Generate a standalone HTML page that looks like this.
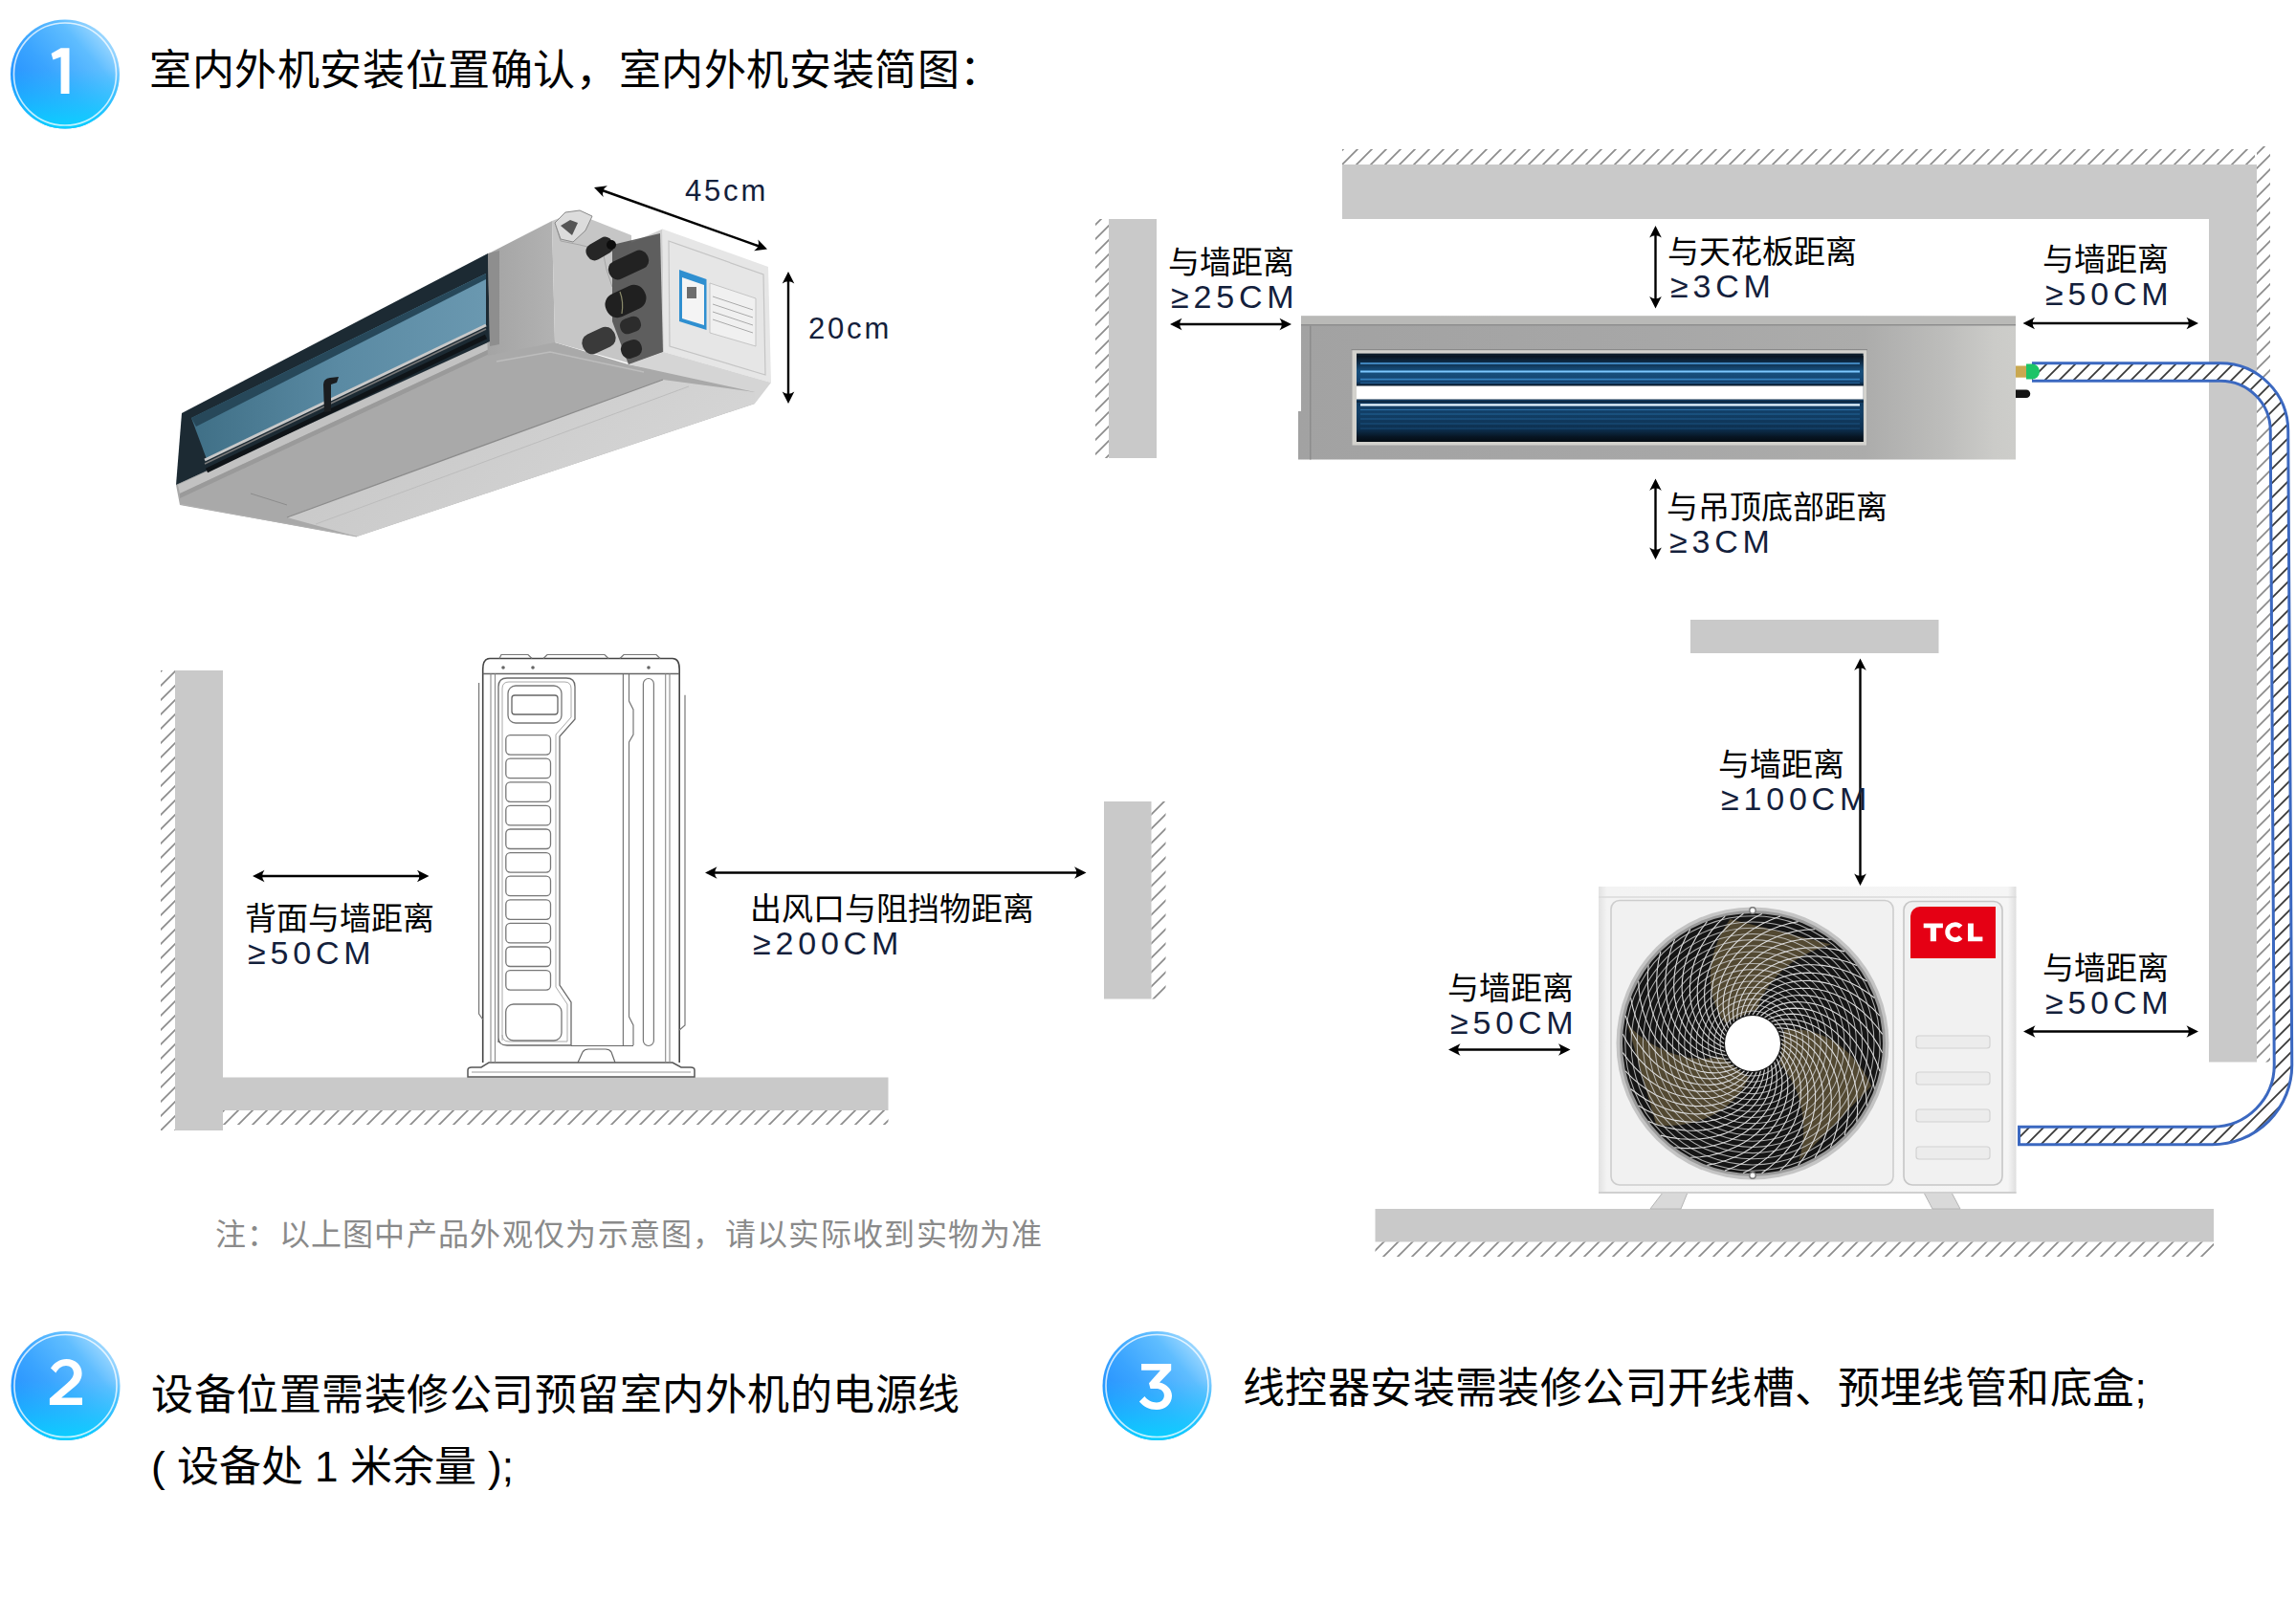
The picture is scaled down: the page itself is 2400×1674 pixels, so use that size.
<!DOCTYPE html>
<html lang="zh-CN"><head><meta charset="utf-8"><title>室内外机安装位置确认</title>
<style>
html,body{margin:0;padding:0;background:#fff;}
body{width:2400px;height:1674px;position:relative;overflow:hidden;font-family:"Liberation Sans",sans-serif;}
svg.bg{position:absolute;left:0;top:0;}
.t{position:absolute;white-space:nowrap;line-height:1;}
</style></head><body>
<svg class="bg" width="2400" height="1674" viewBox="0 0 2400 1674">
<defs>
<pattern id="hw" patternUnits="userSpaceOnUse" width="15" height="15">
<path d="M-2,17 L17,-2 M-2,2 L2,-2 M13,17 L17,13" stroke="#8c8c8c" stroke-width="1.7"/>
</pattern>
<pattern id="hp" patternUnits="userSpaceOnUse" width="15" height="15">
<rect width="15" height="15" fill="#fff"/>
<path d="M-2,17 L17,-2 M-2,2 L2,-2 M13,17 L17,13" stroke="#3a3a3a" stroke-width="1.8"/>
</pattern>
<linearGradient id="bg1" x1="0.9" y1="0.05" x2="0.1" y2="0.75">
<stop offset="0" stop-color="#b5e2ff"/>
<stop offset="0.3" stop-color="#5fbdff"/>
<stop offset="0.65" stop-color="#3aa4ff"/>
<stop offset="1" stop-color="#2490ff"/>
</linearGradient>
<linearGradient id="bg2" x1="0" y1="0" x2="0" y2="1">
<stop offset="0" stop-color="#ffffff" stop-opacity="0"/>
<stop offset="0.45" stop-color="#1ec8ff" stop-opacity="0"/>
<stop offset="1" stop-color="#08d4ff" stop-opacity="0.95"/>
</linearGradient>
</defs>
<rect x="168" y="701" width="15" height="481" fill="url(#hw)" />
<rect x="183" y="701" width="50" height="481" fill="#c9c9c9" />
<rect x="233" y="1126.5" width="695.5" height="34.5" fill="#c9c9c9" />
<rect x="233" y="1161" width="695.5" height="15" fill="url(#hw)" />
<rect x="1154" y="838" width="49.5" height="206.5" fill="#c9c9c9" />
<rect x="1203.5" y="838" width="15.0" height="206.5" fill="url(#hw)" />
<rect x="1145" y="229" width="14" height="250" fill="url(#hw)" />
<rect x="1159" y="229" width="50" height="250" fill="#c9c9c9" />
<rect x="1403" y="156" width="954" height="16" fill="url(#hw)" />
<rect x="1403" y="172" width="954" height="57" fill="#c9c9c9" />
<rect x="2309" y="172" width="50" height="938.5" fill="#c9c9c9" />
<rect x="2359" y="153" width="14" height="957.5" fill="url(#hw)" />
<rect x="1767" y="648" width="259.5" height="35" fill="#c9c9c9" />
<rect x="1437.5" y="1264" width="876.5" height="34.5" fill="#c9c9c9" />
<rect x="1437.5" y="1298.5" width="876.5" height="15.5" fill="url(#hw)" />
<linearGradient id="iug" x1="0" y1="0" x2="1" y2="0">
<stop offset="0" stop-color="#a2a2a2"/><stop offset="0.5" stop-color="#a7a7a7"/>
<stop offset="0.79" stop-color="#acacab"/><stop offset="0.9" stop-color="#bdbdbb"/><stop offset="0.97" stop-color="#cbcbc8"/><stop offset="1" stop-color="#cdcdca"/></linearGradient>
<linearGradient id="gru" x1="0" y1="0" x2="0" y2="1">
<stop offset="0" stop-color="#08131e"/><stop offset="0.22" stop-color="#0e2c48"/><stop offset="0.5" stop-color="#17507e"/><stop offset="0.85" stop-color="#134370"/><stop offset="1" stop-color="#0a1a2a"/></linearGradient>
<linearGradient id="grl" x1="0" y1="0" x2="0" y2="1">
<stop offset="0" stop-color="#123c62"/><stop offset="0.3" stop-color="#124068"/><stop offset="0.7" stop-color="#0d3050"/><stop offset="0.88" stop-color="#071624"/><stop offset="1" stop-color="#040b12"/></linearGradient>
<path d="M1360,330.5 H2107 V480.5 H1357 V430 H1360 Z" fill="url(#iug)"/>
<rect x="1360" y="330.5" width="747" height="8.5" fill="#b9b9b7" />
<rect x="1360" y="339" width="747" height="1.5" fill="#8e8e8e" />
<rect x="1369" y="340.5" width="1.5" height="140.0" fill="#8c8c8c" />
<rect x="1413.5" y="366" width="537.5" height="99.5" fill="#d3d2cd" />
<rect x="1412.5" y="365" width="539.5" height="1.1999999999999886" fill="#8a8a8a" />
<rect x="1418" y="369.6" width="529.7" height="92.39999999999998" fill="#0b1b2a" />
<rect x="1418" y="372" width="529.7" height="31.5" fill="url(#gru)" />
<rect x="1418" y="417.5" width="529.7" height="44.5" fill="url(#grl)" />
<line x1="1422" y1="380" x2="1944" y2="380" stroke="#58aef0" stroke-opacity="0.9" stroke-width="1.6"/>
<line x1="1422" y1="388.6" x2="1944" y2="388.6" stroke="#7cc8ff" stroke-opacity="1" stroke-width="2"/>
<line x1="1422" y1="396.6" x2="1944" y2="396.6" stroke="#3d8fd0" stroke-opacity="0.8" stroke-width="1.6"/>
<line x1="1422" y1="400.4" x2="1944" y2="400.4" stroke="#2d78b8" stroke-opacity="0.6" stroke-width="1.2"/>
<line x1="1422" y1="423.4" x2="1944" y2="423.4" stroke="#e6f6ff" stroke-opacity="1" stroke-width="2.4"/>
<line x1="1422" y1="428.5" x2="1944" y2="428.5" stroke="#3b8ccc" stroke-opacity="0.6" stroke-width="1.2"/>
<line x1="1422" y1="433" x2="1944" y2="433" stroke="#2f7fc0" stroke-opacity="0.55" stroke-width="1.2"/>
<line x1="1422" y1="438" x2="1944" y2="438" stroke="#2f7fc0" stroke-opacity="0.5" stroke-width="1.2"/>
<line x1="1422" y1="443" x2="1944" y2="443" stroke="#2a70aa" stroke-opacity="0.5" stroke-width="1.2"/>
<line x1="1422" y1="448" x2="1944" y2="448" stroke="#2a70aa" stroke-opacity="0.4" stroke-width="1.2"/>
<rect x="1418" y="403.5" width="529.7" height="14.0" fill="#ffffff" />
<rect x="1418" y="419" width="529.7" height="2" fill="#0d2a44" />
<path d="M2124,389 H2321 A61.5,61.5 0 0 1 2382.5,450.5 L2386.5,1113.5 A74,74 0 0 1 2312.5,1187.5 H2109" fill="none" stroke="#3b68c0" stroke-width="21.5"/>
<path d="M2124,389 H2321 A61.5,61.5 0 0 1 2382.5,450.5 L2386.5,1113.5 A74,74 0 0 1 2312.5,1187.5 H2112" fill="none" stroke="url(#hp)" stroke-width="15.5"/>
<rect x="2107" y="382.5" width="12" height="12.199999999999989" fill="#c9a850" />
<path d="M2118,380.5 H2124 A8,8 0 0 1 2124,396.5 H2118 Z" fill="#1cc468"/>
<path d="M2107,407.5 H2118 A4.25,4.25 0 0 1 2118,416 H2107 Z" fill="#141414"/>
<path d="M1738,1247 H1764 L1757,1264 H1725 Z" fill="#d9d9d9" stroke="#b5b5b5" stroke-width="1"/>
<path d="M2011,1247 H2040 L2049,1264 H2020 Z" fill="#d9d9d9" stroke="#b5b5b5" stroke-width="1"/>
<linearGradient id="oug" x1="0" y1="0" x2="1" y2="0">
<stop offset="0" stop-color="#e2e2e2"/><stop offset="0.02" stop-color="#f3f3f3"/><stop offset="0.98" stop-color="#f5f5f5"/><stop offset="1" stop-color="#dedede"/></linearGradient>
<rect x="1671" y="927" width="436.5" height="321" fill="url(#oug)"/>
<line x1="1671" y1="938" x2="2107.5" y2="938" stroke="#dadada" stroke-width="1.5"/>
<line x1="1671" y1="1247" x2="2107.5" y2="1247" stroke="#d0d0d0" stroke-width="2"/>
<rect x="1684" y="941.5" width="295" height="297.5" rx="9" fill="#f1f1f1" stroke="#cdcdcd" stroke-width="1.6"/>
<rect x="1990" y="942.5" width="103" height="296.5" rx="9" fill="#f1f1f1" stroke="#c6c6c6" stroke-width="1.6"/>
<rect x="2003" y="1083" width="77" height="13" rx="3" fill="#ececec" stroke="#d2d2d2" stroke-width="1.2"/>
<rect x="2003" y="1121" width="77" height="13" rx="3" fill="#ececec" stroke="#d2d2d2" stroke-width="1.2"/>
<rect x="2003" y="1160" width="77" height="13" rx="3" fill="#ececec" stroke="#d2d2d2" stroke-width="1.2"/>
<rect x="2003" y="1199" width="77" height="13" rx="3" fill="#ececec" stroke="#d2d2d2" stroke-width="1.2"/>
<path d="M2007,948 H2086 V1002 H1997 V958 A10,10 0 0 1 2007,948 Z" fill="#e50014"/>
<path d="M2010.7,965.6 H2030.9 V970.2 H2023.9 V984.2 H2017.8 V970.2 H2010.7 Z M2057,965.6 H2062.9 V979.6 H2072.4 V984.2 H2057 Z" fill="#fff"/>
<path d="M2049.6,969.2 A8,8 0 1 0 2049.6,980" fill="none" stroke="#fff" stroke-width="4.9"/>
<circle cx="1832" cy="1091" r="142.5" fill="#c4c4c4"/>
<circle cx="1832" cy="1091" r="139" fill="#9a9a9a"/>
<circle cx="1832" cy="1091" r="136" fill="#151515"/>
<path d="M1836.3,1055.3 L1838.8,1048.7 L1841.8,1042.3 L1845.4,1036.0 L1849.4,1030.0 L1853.9,1024.2 L1858.9,1018.7 L1864.4,1013.5 L1870.3,1008.6 L1876.6,1004.1 L1883.4,999.9 L1890.5,996.2 L1898.0,992.9 L1905.9,990.0 L1914.1,987.6 L1808.5,961.1 L1803.1,969.2 L1798.6,977.5 L1794.8,985.9 L1791.9,994.4 L1789.8,1002.9 L1788.4,1011.3 L1787.8,1019.6 L1787.9,1027.7 L1788.8,1035.5 L1790.4,1043.1 L1792.7,1050.3 L1795.6,1057.2 L1799.1,1063.5 L1803.2,1069.5 Z" fill="#524831"/>
<path d="M1860.8,1112.6 L1865.2,1118.1 L1869.3,1123.9 L1872.9,1130.1 L1876.1,1136.6 L1878.9,1143.4 L1881.1,1150.5 L1882.9,1157.8 L1884.2,1165.4 L1885.0,1173.1 L1885.2,1181.0 L1884.9,1189.1 L1884.0,1197.3 L1882.5,1205.5 L1880.5,1213.8 L1956.2,1135.6 L1951.9,1126.9 L1947.0,1118.8 L1941.6,1111.4 L1935.7,1104.6 L1929.4,1098.5 L1922.8,1093.1 L1916.0,1088.4 L1908.9,1084.5 L1901.6,1081.3 L1894.3,1078.9 L1886.9,1077.3 L1879.5,1076.4 L1872.2,1076.2 L1865.1,1076.8 Z" fill="#524831"/>
<path d="M1798.9,1105.1 L1791.9,1106.2 L1784.9,1106.8 L1777.7,1106.9 L1770.5,1106.4 L1763.2,1105.4 L1755.9,1103.8 L1748.7,1101.7 L1741.5,1099.0 L1734.4,1095.8 L1727.4,1092.0 L1720.6,1087.7 L1714.0,1082.9 L1707.6,1077.5 L1701.4,1071.6 L1731.3,1176.3 L1741.0,1176.9 L1750.4,1176.7 L1759.6,1175.7 L1768.4,1174.0 L1776.8,1171.6 L1784.8,1168.6 L1792.2,1165.0 L1799.2,1160.8 L1805.5,1156.1 L1811.3,1151.0 L1816.4,1145.4 L1820.9,1139.5 L1824.7,1133.2 L1827.8,1126.7 Z" fill="#524831"/>
<g fill="none" stroke="#c8c8c8" stroke-width="1.05" stroke-opacity="0.85"><circle cx="1832" cy="1091" r="34.0"/><circle cx="1832" cy="1091" r="40.2"/><circle cx="1832" cy="1091" r="46.4"/><circle cx="1832" cy="1091" r="52.6"/><circle cx="1832" cy="1091" r="58.8"/><circle cx="1832" cy="1091" r="65.0"/><circle cx="1832" cy="1091" r="71.2"/><circle cx="1832" cy="1091" r="77.4"/><circle cx="1832" cy="1091" r="83.6"/><circle cx="1832" cy="1091" r="89.8"/><circle cx="1832" cy="1091" r="96.0"/><circle cx="1832" cy="1091" r="102.2"/><circle cx="1832" cy="1091" r="108.4"/><circle cx="1832" cy="1091" r="114.6"/><circle cx="1832" cy="1091" r="120.8"/><circle cx="1832" cy="1091" r="127.0"/><circle cx="1832" cy="1091" r="133.2"/></g>
<g fill="none" stroke="#dcdcdc" stroke-width="1.1"><path d="M1862.0,1091.0 L1867.1,1094.6 L1871.9,1098.6 L1876.2,1103.3 L1880.1,1108.7 L1883.3,1114.6 L1886.0,1121.0 L1888.0,1127.9 L1889.3,1135.3 L1889.8,1142.9 L1889.6,1150.8 L1888.5,1158.8 L1886.7,1167.0 L1883.9,1175.2 L1880.4,1183.3 L1875.9,1191.3 L1870.7,1199.1 L1864.6,1206.6 L1857.7,1213.7 L1850.0,1220.4 L1841.6,1226.7"/><path d="M1861.7,1095.3 L1866.3,1099.5 L1870.4,1104.2 L1874.0,1109.5 L1877.0,1115.3 L1879.5,1121.7 L1881.2,1128.4 L1882.2,1135.5 L1882.4,1143.0 L1881.9,1150.6 L1880.5,1158.4 L1878.3,1166.2 L1875.3,1174.0 L1871.4,1181.7 L1866.7,1189.2 L1861.2,1196.5 L1854.9,1203.5 L1847.8,1210.1 L1840.0,1216.1 L1831.4,1221.7 L1822.2,1226.6"/><path d="M1860.8,1099.5 L1864.7,1104.3 L1868.1,1109.5 L1870.9,1115.3 L1873.1,1121.5 L1874.6,1128.1 L1875.4,1135.0 L1875.3,1142.2 L1874.5,1149.6 L1872.9,1157.1 L1870.4,1164.6 L1867.1,1172.0 L1863.0,1179.3 L1858.1,1186.4 L1852.4,1193.2 L1845.9,1199.6 L1838.7,1205.6 L1830.7,1211.1 L1822.1,1216.0 L1812.8,1220.3 L1803.0,1223.9"/><path d="M1859.3,1103.5 L1862.5,1108.8 L1865.1,1114.5 L1867.1,1120.6 L1868.4,1127.0 L1868.9,1133.8 L1868.6,1140.8 L1867.6,1147.9 L1865.7,1155.1 L1863.1,1162.2 L1859.6,1169.3 L1855.3,1176.2 L1850.2,1182.8 L1844.3,1189.1 L1837.7,1195.0 L1830.3,1200.5 L1822.3,1205.4 L1813.6,1209.7 L1804.4,1213.3 L1794.6,1216.2 L1784.4,1218.4"/><path d="M1857.2,1107.2 L1859.6,1113.0 L1861.4,1119.0 L1862.5,1125.3 L1862.9,1131.8 L1862.4,1138.6 L1861.2,1145.5 L1859.1,1152.4 L1856.3,1159.2 L1852.6,1165.9 L1848.1,1172.4 L1842.9,1178.6 L1836.9,1184.5 L1830.2,1189.9 L1822.8,1194.8 L1814.7,1199.1 L1806.1,1202.8 L1796.9,1205.9 L1787.3,1208.2 L1777.2,1209.7 L1766.8,1210.3"/><path d="M1854.7,1110.6 L1856.2,1116.7 L1857.1,1122.9 L1857.3,1129.3 L1856.7,1135.8 L1855.3,1142.4 L1853.1,1149.1 L1850.1,1155.6 L1846.3,1162.0 L1841.7,1168.1 L1836.4,1173.9 L1830.3,1179.3 L1823.6,1184.2 L1816.1,1188.6 L1808.1,1192.4 L1799.5,1195.6 L1790.5,1198.0 L1780.9,1199.7 L1771.1,1200.6 L1760.9,1200.6 L1750.4,1199.8"/><path d="M1851.6,1113.7 L1852.3,1119.9 L1852.4,1126.1 L1851.6,1132.5 L1850.1,1138.9 L1847.8,1145.2 L1844.7,1151.5 L1840.8,1157.5 L1836.1,1163.3 L1830.7,1168.7 L1824.6,1173.7 L1817.8,1178.1 L1810.4,1182.1 L1802.4,1185.4 L1793.9,1188.0 L1785.0,1189.9 L1775.6,1191.0 L1766.0,1191.3 L1756.1,1190.8 L1746.0,1189.4 L1735.8,1187.1"/><path d="M1848.2,1116.2 L1848.0,1122.5 L1847.1,1128.7 L1845.5,1134.9 L1843.1,1141.0 L1839.9,1146.9 L1835.9,1152.7 L1831.2,1158.1 L1825.8,1163.1 L1819.6,1167.7 L1812.9,1171.8 L1805.5,1175.2 L1797.6,1178.1 L1789.3,1180.2 L1780.5,1181.6 L1771.4,1182.2 L1762.0,1182.0 L1752.4,1180.9 L1742.6,1179.0 L1732.9,1176.2 L1723.1,1172.4"/><path d="M1844.5,1118.3 L1843.3,1124.4 L1841.6,1130.4 L1839.1,1136.3 L1835.9,1142.1 L1831.9,1147.5 L1827.1,1152.6 L1821.7,1157.3 L1815.6,1161.5 L1808.8,1165.2 L1801.6,1168.2 L1793.8,1170.6 L1785.6,1172.3 L1777.0,1173.2 L1768.1,1173.3 L1759.0,1172.6 L1749.8,1171.1 L1740.4,1168.7 L1731.0,1165.4 L1721.7,1161.2 L1712.6,1156.1"/><path d="M1840.5,1119.8 L1838.5,1125.7 L1835.9,1131.4 L1832.6,1136.9 L1828.6,1142.1 L1823.8,1146.9 L1818.4,1151.3 L1812.3,1155.2 L1805.7,1158.4 L1798.5,1161.1 L1790.9,1163.1 L1782.9,1164.4 L1774.5,1164.9 L1765.9,1164.5 L1757.1,1163.4 L1748.1,1161.4 L1739.2,1158.6 L1730.3,1154.8 L1721.5,1150.2 L1712.9,1144.8 L1704.5,1138.5"/><path d="M1836.3,1120.7 L1833.5,1126.3 L1830.1,1131.6 L1826.1,1136.5 L1821.3,1141.1 L1816.0,1145.2 L1810.0,1148.7 L1803.4,1151.7 L1796.4,1154.0 L1788.9,1155.6 L1781.0,1156.5 L1772.9,1156.6 L1764.6,1155.9 L1756.1,1154.4 L1747.5,1152.0 L1739.0,1148.8 L1730.5,1144.7 L1722.2,1139.7 L1714.2,1133.9 L1706.4,1127.3 L1699.1,1119.8"/><path d="M1832.0,1121.0 L1828.4,1126.1 L1824.4,1130.9 L1819.7,1135.2 L1814.3,1139.1 L1808.4,1142.3 L1802.0,1145.0 L1795.1,1147.0 L1787.7,1148.3 L1780.1,1148.8 L1772.2,1148.6 L1764.2,1147.5 L1756.0,1145.7 L1747.8,1142.9 L1739.7,1139.4 L1731.7,1134.9 L1723.9,1129.7 L1716.4,1123.6 L1709.3,1116.7 L1702.6,1109.0 L1696.3,1100.6"/><path d="M1827.7,1120.7 L1823.5,1125.3 L1818.8,1129.4 L1813.5,1133.0 L1807.7,1136.0 L1801.3,1138.5 L1794.6,1140.2 L1787.5,1141.2 L1780.0,1141.4 L1772.4,1140.9 L1764.6,1139.5 L1756.8,1137.3 L1749.0,1134.3 L1741.3,1130.4 L1733.8,1125.7 L1726.5,1120.2 L1719.5,1113.9 L1712.9,1106.8 L1706.9,1099.0 L1701.3,1090.4 L1696.4,1081.2"/><path d="M1823.5,1119.8 L1818.7,1123.7 L1813.5,1127.1 L1807.7,1129.9 L1801.5,1132.1 L1794.9,1133.6 L1788.0,1134.4 L1780.8,1134.3 L1773.4,1133.5 L1765.9,1131.9 L1758.4,1129.4 L1751.0,1126.1 L1743.7,1122.0 L1736.6,1117.1 L1729.8,1111.4 L1723.4,1104.9 L1717.4,1097.7 L1711.9,1089.7 L1707.0,1081.1 L1702.7,1071.8 L1699.1,1062.0"/><path d="M1819.5,1118.3 L1814.2,1121.5 L1808.5,1124.1 L1802.4,1126.1 L1796.0,1127.4 L1789.2,1127.9 L1782.2,1127.6 L1775.1,1126.6 L1767.9,1124.7 L1760.8,1122.1 L1753.7,1118.6 L1746.8,1114.3 L1740.2,1109.2 L1733.9,1103.3 L1728.0,1096.7 L1722.5,1089.3 L1717.6,1081.3 L1713.3,1072.6 L1709.7,1063.4 L1706.8,1053.6 L1704.6,1043.4"/><path d="M1815.8,1116.2 L1810.0,1118.6 L1804.0,1120.4 L1797.7,1121.5 L1791.2,1121.9 L1784.4,1121.4 L1777.5,1120.2 L1770.6,1118.1 L1763.8,1115.3 L1757.1,1111.6 L1750.6,1107.1 L1744.4,1101.9 L1738.5,1095.9 L1733.1,1089.2 L1728.2,1081.8 L1723.9,1073.7 L1720.2,1065.1 L1717.1,1055.9 L1714.8,1046.3 L1713.3,1036.2 L1712.7,1025.8"/><path d="M1812.4,1113.7 L1806.3,1115.2 L1800.1,1116.1 L1793.7,1116.3 L1787.2,1115.7 L1780.6,1114.3 L1773.9,1112.1 L1767.4,1109.1 L1761.0,1105.3 L1754.9,1100.7 L1749.1,1095.4 L1743.7,1089.3 L1738.8,1082.6 L1734.4,1075.1 L1730.6,1067.1 L1727.4,1058.5 L1725.0,1049.5 L1723.3,1039.9 L1722.4,1030.1 L1722.4,1019.9 L1723.2,1009.4"/><path d="M1809.3,1110.6 L1803.1,1111.3 L1796.9,1111.4 L1790.5,1110.6 L1784.1,1109.1 L1777.8,1106.8 L1771.5,1103.7 L1765.5,1099.8 L1759.7,1095.1 L1754.3,1089.7 L1749.3,1083.6 L1744.9,1076.8 L1740.9,1069.4 L1737.6,1061.4 L1735.0,1052.9 L1733.1,1044.0 L1732.0,1034.6 L1731.7,1025.0 L1732.2,1015.1 L1733.6,1005.0 L1735.9,994.8"/><path d="M1806.8,1107.2 L1800.5,1107.0 L1794.3,1106.1 L1788.1,1104.5 L1782.0,1102.1 L1776.1,1098.9 L1770.3,1094.9 L1764.9,1090.2 L1759.9,1084.8 L1755.3,1078.6 L1751.2,1071.9 L1747.8,1064.5 L1744.9,1056.6 L1742.8,1048.3 L1741.4,1039.5 L1740.8,1030.4 L1741.0,1021.0 L1742.1,1011.4 L1744.0,1001.6 L1746.8,991.9 L1750.6,982.1"/><path d="M1804.7,1103.5 L1798.6,1102.3 L1792.6,1100.6 L1786.7,1098.1 L1780.9,1094.9 L1775.5,1090.9 L1770.4,1086.1 L1765.7,1080.7 L1761.5,1074.6 L1757.8,1067.8 L1754.8,1060.6 L1752.4,1052.8 L1750.7,1044.6 L1749.8,1036.0 L1749.7,1027.1 L1750.4,1018.0 L1751.9,1008.8 L1754.3,999.4 L1757.6,990.0 L1761.8,980.7 L1766.9,971.6"/><path d="M1803.2,1099.5 L1797.3,1097.5 L1791.6,1094.9 L1786.1,1091.6 L1780.9,1087.6 L1776.1,1082.8 L1771.7,1077.4 L1767.8,1071.3 L1764.6,1064.7 L1761.9,1057.5 L1759.9,1049.9 L1758.6,1041.9 L1758.1,1033.5 L1758.5,1024.9 L1759.6,1016.1 L1761.6,1007.1 L1764.4,998.2 L1768.2,989.3 L1772.8,980.5 L1778.2,971.9 L1784.5,963.5"/><path d="M1802.3,1095.3 L1796.7,1092.5 L1791.4,1089.1 L1786.5,1085.1 L1781.9,1080.3 L1777.8,1075.0 L1774.3,1069.0 L1771.3,1062.4 L1769.0,1055.4 L1767.4,1047.9 L1766.5,1040.0 L1766.4,1031.9 L1767.1,1023.6 L1768.6,1015.1 L1771.0,1006.5 L1774.2,998.0 L1778.3,989.5 L1783.3,981.2 L1789.1,973.2 L1795.7,965.4 L1803.2,958.1"/><path d="M1802.0,1091.0 L1796.9,1087.4 L1792.1,1083.4 L1787.8,1078.7 L1783.9,1073.3 L1780.7,1067.4 L1778.0,1061.0 L1776.0,1054.1 L1774.7,1046.7 L1774.2,1039.1 L1774.4,1031.2 L1775.5,1023.2 L1777.3,1015.0 L1780.1,1006.8 L1783.6,998.7 L1788.1,990.7 L1793.3,982.9 L1799.4,975.4 L1806.3,968.3 L1814.0,961.6 L1822.4,955.3"/><path d="M1802.3,1086.7 L1797.7,1082.5 L1793.6,1077.8 L1790.0,1072.5 L1787.0,1066.7 L1784.5,1060.3 L1782.8,1053.6 L1781.8,1046.5 L1781.6,1039.0 L1782.1,1031.4 L1783.5,1023.6 L1785.7,1015.8 L1788.7,1008.0 L1792.6,1000.3 L1797.3,992.8 L1802.8,985.5 L1809.1,978.5 L1816.2,971.9 L1824.0,965.9 L1832.6,960.3 L1841.8,955.4"/><path d="M1803.2,1082.5 L1799.3,1077.7 L1795.9,1072.5 L1793.1,1066.7 L1790.9,1060.5 L1789.4,1053.9 L1788.6,1047.0 L1788.7,1039.8 L1789.5,1032.4 L1791.1,1024.9 L1793.6,1017.4 L1796.9,1010.0 L1801.0,1002.7 L1805.9,995.6 L1811.6,988.8 L1818.1,982.4 L1825.3,976.4 L1833.3,970.9 L1841.9,966.0 L1851.2,961.7 L1861.0,958.1"/><path d="M1804.7,1078.5 L1801.5,1073.2 L1798.9,1067.5 L1796.9,1061.4 L1795.6,1055.0 L1795.1,1048.2 L1795.4,1041.2 L1796.4,1034.1 L1798.3,1026.9 L1800.9,1019.8 L1804.4,1012.7 L1808.7,1005.8 L1813.8,999.2 L1819.7,992.9 L1826.3,987.0 L1833.7,981.5 L1841.7,976.6 L1850.4,972.3 L1859.6,968.7 L1869.4,965.8 L1879.6,963.6"/><path d="M1806.8,1074.8 L1804.4,1069.0 L1802.6,1063.0 L1801.5,1056.7 L1801.1,1050.2 L1801.6,1043.4 L1802.8,1036.5 L1804.9,1029.6 L1807.7,1022.8 L1811.4,1016.1 L1815.9,1009.6 L1821.1,1003.4 L1827.1,997.5 L1833.8,992.1 L1841.2,987.2 L1849.3,982.9 L1857.9,979.2 L1867.1,976.1 L1876.7,973.8 L1886.8,972.3 L1897.2,971.7"/><path d="M1809.3,1071.4 L1807.8,1065.3 L1806.9,1059.1 L1806.7,1052.7 L1807.3,1046.2 L1808.7,1039.6 L1810.9,1032.9 L1813.9,1026.4 L1817.7,1020.0 L1822.3,1013.9 L1827.6,1008.1 L1833.7,1002.7 L1840.4,997.8 L1847.9,993.4 L1855.9,989.6 L1864.5,986.4 L1873.5,984.0 L1883.1,982.3 L1892.9,981.4 L1903.1,981.4 L1913.6,982.2"/><path d="M1812.4,1068.3 L1811.7,1062.1 L1811.6,1055.9 L1812.4,1049.5 L1813.9,1043.1 L1816.2,1036.8 L1819.3,1030.5 L1823.2,1024.5 L1827.9,1018.7 L1833.3,1013.3 L1839.4,1008.3 L1846.2,1003.9 L1853.6,999.9 L1861.6,996.6 L1870.1,994.0 L1879.0,992.1 L1888.4,991.0 L1898.0,990.7 L1907.9,991.2 L1918.0,992.6 L1928.2,994.9"/><path d="M1815.8,1065.8 L1816.0,1059.5 L1816.9,1053.3 L1818.5,1047.1 L1820.9,1041.0 L1824.1,1035.1 L1828.1,1029.3 L1832.8,1023.9 L1838.2,1018.9 L1844.4,1014.3 L1851.1,1010.2 L1858.5,1006.8 L1866.4,1003.9 L1874.7,1001.8 L1883.5,1000.4 L1892.6,999.8 L1902.0,1000.0 L1911.6,1001.1 L1921.4,1003.0 L1931.1,1005.8 L1940.9,1009.6"/><path d="M1819.5,1063.7 L1820.7,1057.6 L1822.4,1051.6 L1824.9,1045.7 L1828.1,1039.9 L1832.1,1034.5 L1836.9,1029.4 L1842.3,1024.7 L1848.4,1020.5 L1855.2,1016.8 L1862.4,1013.8 L1870.2,1011.4 L1878.4,1009.7 L1887.0,1008.8 L1895.9,1008.7 L1905.0,1009.4 L1914.2,1010.9 L1923.6,1013.3 L1933.0,1016.6 L1942.3,1020.8 L1951.4,1025.9"/><path d="M1823.5,1062.2 L1825.5,1056.3 L1828.1,1050.6 L1831.4,1045.1 L1835.4,1039.9 L1840.2,1035.1 L1845.6,1030.7 L1851.7,1026.8 L1858.3,1023.6 L1865.5,1020.9 L1873.1,1018.9 L1881.1,1017.6 L1889.5,1017.1 L1898.1,1017.5 L1906.9,1018.6 L1915.9,1020.6 L1924.8,1023.4 L1933.7,1027.2 L1942.5,1031.8 L1951.1,1037.2 L1959.5,1043.5"/><path d="M1827.7,1061.3 L1830.5,1055.7 L1833.9,1050.4 L1837.9,1045.5 L1842.7,1040.9 L1848.0,1036.8 L1854.0,1033.3 L1860.6,1030.3 L1867.6,1028.0 L1875.1,1026.4 L1883.0,1025.5 L1891.1,1025.4 L1899.4,1026.1 L1907.9,1027.6 L1916.5,1030.0 L1925.0,1033.2 L1933.5,1037.3 L1941.8,1042.3 L1949.8,1048.1 L1957.6,1054.7 L1964.9,1062.2"/><path d="M1832.0,1061.0 L1835.6,1055.9 L1839.6,1051.1 L1844.3,1046.8 L1849.7,1042.9 L1855.6,1039.7 L1862.0,1037.0 L1868.9,1035.0 L1876.3,1033.7 L1883.9,1033.2 L1891.8,1033.4 L1899.8,1034.5 L1908.0,1036.3 L1916.2,1039.1 L1924.3,1042.6 L1932.3,1047.1 L1940.1,1052.3 L1947.6,1058.4 L1954.7,1065.3 L1961.4,1073.0 L1967.7,1081.4"/><path d="M1836.3,1061.3 L1840.5,1056.7 L1845.2,1052.6 L1850.5,1049.0 L1856.3,1046.0 L1862.7,1043.5 L1869.4,1041.8 L1876.5,1040.8 L1884.0,1040.6 L1891.6,1041.1 L1899.4,1042.5 L1907.2,1044.7 L1915.0,1047.7 L1922.7,1051.6 L1930.2,1056.3 L1937.5,1061.8 L1944.5,1068.1 L1951.1,1075.2 L1957.1,1083.0 L1962.7,1091.6 L1967.6,1100.8"/><path d="M1840.5,1062.2 L1845.3,1058.3 L1850.5,1054.9 L1856.3,1052.1 L1862.5,1049.9 L1869.1,1048.4 L1876.0,1047.6 L1883.2,1047.7 L1890.6,1048.5 L1898.1,1050.1 L1905.6,1052.6 L1913.0,1055.9 L1920.3,1060.0 L1927.4,1064.9 L1934.2,1070.6 L1940.6,1077.1 L1946.6,1084.3 L1952.1,1092.3 L1957.0,1100.9 L1961.3,1110.2 L1964.9,1120.0"/><path d="M1844.5,1063.7 L1849.8,1060.5 L1855.5,1057.9 L1861.6,1055.9 L1868.0,1054.6 L1874.8,1054.1 L1881.8,1054.4 L1888.9,1055.4 L1896.1,1057.3 L1903.2,1059.9 L1910.3,1063.4 L1917.2,1067.7 L1923.8,1072.8 L1930.1,1078.7 L1936.0,1085.3 L1941.5,1092.7 L1946.4,1100.7 L1950.7,1109.4 L1954.3,1118.6 L1957.2,1128.4 L1959.4,1138.6"/><path d="M1848.2,1065.8 L1854.0,1063.4 L1860.0,1061.6 L1866.3,1060.5 L1872.8,1060.1 L1879.6,1060.6 L1886.5,1061.8 L1893.4,1063.9 L1900.2,1066.7 L1906.9,1070.4 L1913.4,1074.9 L1919.6,1080.1 L1925.5,1086.1 L1930.9,1092.8 L1935.8,1100.2 L1940.1,1108.3 L1943.8,1116.9 L1946.9,1126.1 L1949.2,1135.7 L1950.7,1145.8 L1951.3,1156.2"/><path d="M1851.6,1068.3 L1857.7,1066.8 L1863.9,1065.9 L1870.3,1065.7 L1876.8,1066.3 L1883.4,1067.7 L1890.1,1069.9 L1896.6,1072.9 L1903.0,1076.7 L1909.1,1081.3 L1914.9,1086.6 L1920.3,1092.7 L1925.2,1099.4 L1929.6,1106.9 L1933.4,1114.9 L1936.6,1123.5 L1939.0,1132.5 L1940.7,1142.1 L1941.6,1151.9 L1941.6,1162.1 L1940.8,1172.6"/><path d="M1854.7,1071.4 L1860.9,1070.7 L1867.1,1070.6 L1873.5,1071.4 L1879.9,1072.9 L1886.2,1075.2 L1892.5,1078.3 L1898.5,1082.2 L1904.3,1086.9 L1909.7,1092.3 L1914.7,1098.4 L1919.1,1105.2 L1923.1,1112.6 L1926.4,1120.6 L1929.0,1129.1 L1930.9,1138.0 L1932.0,1147.4 L1932.3,1157.0 L1931.8,1166.9 L1930.4,1177.0 L1928.1,1187.2"/><path d="M1857.2,1074.8 L1863.5,1075.0 L1869.7,1075.9 L1875.9,1077.5 L1882.0,1079.9 L1887.9,1083.1 L1893.7,1087.1 L1899.1,1091.8 L1904.1,1097.2 L1908.7,1103.4 L1912.8,1110.1 L1916.2,1117.5 L1919.1,1125.4 L1921.2,1133.7 L1922.6,1142.5 L1923.2,1151.6 L1923.0,1161.0 L1921.9,1170.6 L1920.0,1180.4 L1917.2,1190.1 L1913.4,1199.9"/><path d="M1859.3,1078.5 L1865.4,1079.7 L1871.4,1081.4 L1877.3,1083.9 L1883.1,1087.1 L1888.5,1091.1 L1893.6,1095.9 L1898.3,1101.3 L1902.5,1107.4 L1906.2,1114.2 L1909.2,1121.4 L1911.6,1129.2 L1913.3,1137.4 L1914.2,1146.0 L1914.3,1154.9 L1913.6,1164.0 L1912.1,1173.2 L1909.7,1182.6 L1906.4,1192.0 L1902.2,1201.3 L1897.1,1210.4"/><path d="M1860.8,1082.5 L1866.7,1084.5 L1872.4,1087.1 L1877.9,1090.4 L1883.1,1094.4 L1887.9,1099.2 L1892.3,1104.6 L1896.2,1110.7 L1899.4,1117.3 L1902.1,1124.5 L1904.1,1132.1 L1905.4,1140.1 L1905.9,1148.5 L1905.5,1157.1 L1904.4,1165.9 L1902.4,1174.9 L1899.6,1183.8 L1895.8,1192.7 L1891.2,1201.5 L1885.8,1210.1 L1879.5,1218.5"/><path d="M1861.7,1086.7 L1867.3,1089.5 L1872.6,1092.9 L1877.5,1096.9 L1882.1,1101.7 L1886.2,1107.0 L1889.7,1113.0 L1892.7,1119.6 L1895.0,1126.6 L1896.6,1134.1 L1897.5,1142.0 L1897.6,1150.1 L1896.9,1158.4 L1895.4,1166.9 L1893.0,1175.5 L1889.8,1184.0 L1885.7,1192.5 L1880.7,1200.8 L1874.9,1208.8 L1868.3,1216.6 L1860.8,1223.9"/></g>
<circle cx="1832" cy="1091" r="29" fill="#ffffff"/>
<circle cx="1832" cy="952" r="3.2" fill="#fff" stroke="#777" stroke-width="1.4"/>
<circle cx="1832" cy="1229" r="3.2" fill="#fff" stroke="#777" stroke-width="1.4"/>
<g><path d="M489,1126 V1119 Q489,1116 493,1116 H503 L511,1111 H703 L712,1116 H722 Q726,1116 726,1119 V1126 Z" stroke="#555" stroke-width="1.5" fill="none"/><path d="M493,1121 H722" stroke="#999" stroke-width="1" fill="none"/><path d="M504.7,1111 V700 Q504.7,688.5 512,688.5 H703 Q710.2,688.5 710.2,700 V1111" stroke="#444" stroke-width="1.6" fill="none"/><path d="M504.7,704.5 H710.2" stroke="#666" stroke-width="1.4" fill="none"/><path d="M522,688.5 L524,684.5 H552 L556,688.5 M568,688.5 L572,684.5 H632 L636,688.5 M648,688.5 L652,684.5 H686 L690,688.5" stroke="#777" stroke-width="1.2" fill="none"/><path d="M500.6,714 V1060 L504.7,1066" stroke="#777" stroke-width="1.2" fill="none"/><path d="M716,726.7 V1072 L710.2,1077" stroke="#777" stroke-width="1.2" fill="none"/><path d="M513,704.5 V1111" stroke="#8a8a8a" stroke-width="1.1" fill="none"/><path d="M517.5,704.5 V1111" stroke="#8a8a8a" stroke-width="1.1" fill="none"/><path d="M695.7,704.5 V1111" stroke="#8a8a8a" stroke-width="1.1" fill="none"/><path d="M700,704.5 V1111" stroke="#8a8a8a" stroke-width="1.1" fill="none"/><circle cx="526" cy="698" r="1.8" fill="#666"/><circle cx="557" cy="698" r="1.8" fill="#666"/><circle cx="678" cy="698" r="1.8" fill="#666"/><path d="M521,1090 V718 Q521,709 530,709 H592 Q601,709 601,718 V752 L585,770 V1030 L597,1048 V1093 H530 Q521,1093 521,1085" stroke="#6a6a6a" stroke-width="1.3" fill="none"/><path d="M525,1088 V720 Q525,713 532,713 H590 Q597,713 597,720 V750 L581,768 V1032 L593,1050 V1089 H532 Q525,1089 525,1082" stroke="#aaa" stroke-width="1" fill="none"/><rect x="531" y="717" width="56" height="39" rx="8" fill="none" stroke="#777" stroke-width="1.3"/><rect x="535" y="727" width="48" height="20" rx="3" fill="none" stroke="#666" stroke-width="1.3"/><rect x="528.8" y="768.6" width="46.7" height="20.5" rx="4.5" fill="none" stroke="#777" stroke-width="1.3"/><rect x="528.8" y="793.2" width="46.7" height="20.5" rx="4.5" fill="none" stroke="#777" stroke-width="1.3"/><rect x="528.8" y="817.8" width="46.7" height="20.5" rx="4.5" fill="none" stroke="#777" stroke-width="1.3"/><rect x="528.8" y="842.4" width="46.7" height="20.5" rx="4.5" fill="none" stroke="#777" stroke-width="1.3"/><rect x="528.8" y="867.0" width="46.7" height="20.5" rx="4.5" fill="none" stroke="#777" stroke-width="1.3"/><rect x="528.8" y="891.6" width="46.7" height="20.5" rx="4.5" fill="none" stroke="#777" stroke-width="1.3"/><rect x="528.8" y="916.2" width="46.7" height="20.5" rx="4.5" fill="none" stroke="#777" stroke-width="1.3"/><rect x="528.8" y="940.8" width="46.7" height="20.5" rx="4.5" fill="none" stroke="#777" stroke-width="1.3"/><rect x="528.8" y="965.4" width="46.7" height="20.5" rx="4.5" fill="none" stroke="#777" stroke-width="1.3"/><rect x="528.8" y="990.0" width="46.7" height="20.5" rx="4.5" fill="none" stroke="#777" stroke-width="1.3"/><rect x="528.8" y="1014.6" width="46.7" height="20.5" rx="4.5" fill="none" stroke="#777" stroke-width="1.3"/><rect x="528.7" y="1050" width="58.3" height="38" rx="8" fill="none" stroke="#777" stroke-width="1.3"/><path d="M651.4,705 V1093" stroke="#777" stroke-width="1.2" fill="none"/><path d="M657.5,705 V733 L662,742 V768 L657.5,776 V1063 L662,1072 V1093" stroke="#777" stroke-width="1.2" fill="none"/><rect x="672.4" y="709.5" width="11" height="384" rx="5.5" fill="none" stroke="#777" stroke-width="1.2"/><path d="M597,1093.5 H662 M604,1111 L609,1100 Q611,1097 615,1097 H633 Q637,1097 639,1100 L643,1111" stroke="#666" stroke-width="1.2" fill="none"/></g>
<linearGradient id="dbot" x1="0" y1="0" x2="1" y2="0.4">
<stop offset="0" stop-color="#c4c4c4"/><stop offset="1" stop-color="#d6d6d6"/></linearGradient>
<linearGradient id="dblue" x1="0" y1="0" x2="1" y2="0">
<stop offset="0" stop-color="#3f6f86"/><stop offset="0.5" stop-color="#5a8aa3"/><stop offset="1" stop-color="#6a98b0"/></linearGradient>
<linearGradient id="dmid" x1="0" y1="0" x2="1" y2="0">
<stop offset="0" stop-color="#a3a3a3"/><stop offset="1" stop-color="#b2b2b2"/></linearGradient>
<path d="M184,507 L512,356 L580,358 L656.6,381 L789,404 L789,422 L373,561 L188,528 Z" fill="#a9a9a9"/>
<path d="M186,507 L512,357 L514,364 L188,516 Z" fill="#c2c2c2"/>
<path d="M188,516 L514,364 L516,368 L188,521 Z" fill="#9a9a9a"/>
<path d="M519,378 L575,368 L673,389" fill="none" stroke="#bdbdbd" stroke-width="1.5"/>
<path d="M300,541 L693,397 L789,410 L789,422 L373,561 Z" fill="url(#dbot)"/>
<path d="M300,541 L693,397" stroke="#8c8c8c" stroke-width="1.3"/>
<path d="M330,548 L720,404" stroke="#bcbcbc" stroke-width="1"/>
<path d="M188,527 L373,561" stroke="#b0b0b0" stroke-width="1.2"/>
<path d="M262,516 L300,528" stroke="#8c8c8c" stroke-width="1"/>
<path d="M505,268 L577,231 L580,358 L510,372 Z" fill="url(#dmid)"/>
<path d="M577,231 L600,222 L612,227 L660,246 L662,381 L580,358 Z" fill="#c6c6c6"/>
<path d="M581,236 L586,252 L606,256 L630,262 L634,282 L640,300" fill="none" stroke="#a5a5a5" stroke-width="1"/>
<path d="M580,233 L591,222 L606,220 L619,226 L612,241 L599,253 L586,250 Z" fill="#dcdcdc" stroke="#8a8a8a" stroke-width="1"/>
<path d="M586,236 L596,230 L604,233 L598,246 Z" fill="#555"/>
<path d="M658,254.5 L692.6,239.5 L694,368 L656.6,381 Z" fill="#cfcfcf"/>
<path d="M692.6,239.5 L803,279 L806,400 L694,368 Z" fill="#e6e6e6"/>
<path d="M656.6,381 L694,368 L806,400 L789,422 L789,410 Z" fill="#d5d5d5"/>
<path d="M699,252 L798,287 L800,392 L700,362 Z" fill="none" stroke="#c4c4c4" stroke-width="1.2"/>
<path d="M710,282 L738.5,292 L738.5,345 L710,336 Z" fill="#2f8fd0"/>
<path d="M713,290 L736,298 L736,340 L713,333 Z" fill="#f4f4f4"/>
<path d="M742,296 L790,312 L790,362 L742,348 Z" fill="#f0f0f0" stroke="#bbb" stroke-width="0.8"/>
<path d="M745,310 L787,324 M745,318 L787,332 M745,326 L787,340 M745,334 L787,348" stroke="#aaa" stroke-width="1"/>
<rect x="718" y="300" width="10" height="12" fill="#333" opacity="0.7"/>
<path d="M640,256 L690,244 L693,368 L657,381 L640,336 Z" fill="#4a4a4a" opacity="0.85"/>
<rect x="612.0" y="251.0" width="30" height="18" rx="8.0" fill="#262626" transform="rotate(-30 627 260)"/>
<rect x="635.0" y="267.0" width="44" height="20" rx="9.0" fill="#222" transform="rotate(-25 657 277)"/>
<rect x="632.0" y="302.0" width="44" height="26" rx="12.0" fill="#202020" transform="rotate(-25 654 315)"/>
<rect x="608.0" y="345.0" width="36" height="22" rx="10.0" fill="#3a3a3a" transform="rotate(-25 626 356)"/>
<rect x="648.0" y="332.0" width="22" height="16" rx="7.0" fill="#2c2c2c" transform="rotate(-20 659 340)"/>
<rect x="649.0" y="356.0" width="22" height="18" rx="8.0" fill="#262626" transform="rotate(-20 660 365)"/>
<circle cx="639" cy="256" r="5" fill="#0d0d0d"/>
<path d="M648,305 Q652,315 650,328" stroke="#8a8a6a" stroke-width="1.2" fill="none"/>
<path d="M190,432 L510,265 L512,357 L184,507 Z" fill="#1c2a33"/>
<path d="M200,437 L508,286 L508,340 L216,480 Z" fill="url(#dblue)"/>
<path d="M200,437 L508,286 L508,292 L205,446 Z" fill="#27485a"/>
<path d="M214,481 L508,340" stroke="#c9c9c9" stroke-width="3"/>
<path d="M214,485 L508,344" stroke="#7a7a7a" stroke-width="1.5"/>
<path d="M216,492 L508,352" stroke="#0f1418" stroke-width="5"/>
<path d="M338,402 Q338,396 345,395 L354,394 L352,400 L346,402 L346,430 L339,431 Z" fill="#1a1d20"/>
<path d="M510,265 L522,262 L522,360 L512,362 Z" fill="#8e8e8e"/>
<line x1="270.0" y1="916.0" x2="442.5" y2="916.0" stroke="#000" stroke-width="2.4"/>
<path d="M448.5,916.0 L436.0,922.3 Q440.8,916.0 436.0,909.7 Z" fill="#000"/>
<path d="M264.0,916.0 L276.5,922.3 Q271.8,916.0 276.5,909.7 Z" fill="#000"/>
<line x1="743.0" y1="912.5" x2="1129.5" y2="912.5" stroke="#000" stroke-width="2.4"/>
<path d="M1135.5,912.5 L1123.0,918.8 Q1127.8,912.5 1123.0,906.2 Z" fill="#000"/>
<path d="M737.0,912.5 L749.5,918.8 Q744.8,912.5 749.5,906.2 Z" fill="#000"/>
<line x1="626.7" y1="198.0" x2="796.3" y2="258.5" stroke="#000" stroke-width="2.4"/>
<path d="M802.0,260.5 L788.1,262.2 Q794.7,257.9 792.3,250.4 Z" fill="#000"/>
<path d="M621.0,196.0 L630.7,206.1 Q628.3,198.6 634.9,194.3 Z" fill="#000"/>
<line x1="824.0" y1="290.0" x2="824.0" y2="416.0" stroke="#000" stroke-width="2.4"/>
<path d="M824.0,422.0 L817.7,409.5 Q824.0,414.2 830.3,409.5 Z" fill="#000"/>
<path d="M824.0,284.0 L817.7,296.5 Q824.0,291.8 830.3,296.5 Z" fill="#000"/>
<line x1="1229.0" y1="339.0" x2="1344.0" y2="339.0" stroke="#000" stroke-width="2.4"/>
<path d="M1350.0,339.0 L1337.5,345.3 Q1342.2,339.0 1337.5,332.7 Z" fill="#000"/>
<path d="M1223.0,339.0 L1235.5,345.3 Q1230.8,339.0 1235.5,332.7 Z" fill="#000"/>
<line x1="1730.5" y1="242.0" x2="1730.5" y2="316.5" stroke="#000" stroke-width="2.4"/>
<path d="M1730.5,322.5 L1724.2,310.0 Q1730.5,314.8 1736.8,310.0 Z" fill="#000"/>
<path d="M1730.5,236.0 L1724.2,248.5 Q1730.5,243.8 1736.8,248.5 Z" fill="#000"/>
<line x1="2120.5" y1="338.0" x2="2292.0" y2="338.0" stroke="#000" stroke-width="2.4"/>
<path d="M2298.0,338.0 L2285.5,344.3 Q2290.2,338.0 2285.5,331.7 Z" fill="#000"/>
<path d="M2114.5,338.0 L2127.0,344.3 Q2122.2,338.0 2127.0,331.7 Z" fill="#000"/>
<line x1="1730.5" y1="506.5" x2="1730.5" y2="579.0" stroke="#000" stroke-width="2.4"/>
<path d="M1730.5,585.0 L1724.2,572.5 Q1730.5,577.2 1736.8,572.5 Z" fill="#000"/>
<path d="M1730.5,500.5 L1724.2,513.0 Q1730.5,508.2 1736.8,513.0 Z" fill="#000"/>
<line x1="1944.5" y1="694.5" x2="1944.5" y2="920.0" stroke="#000" stroke-width="2.4"/>
<path d="M1944.5,926.0 L1938.2,913.5 Q1944.5,918.2 1950.8,913.5 Z" fill="#000"/>
<path d="M1944.5,688.5 L1938.2,701.0 Q1944.5,696.2 1950.8,701.0 Z" fill="#000"/>
<line x1="1520.0" y1="1097.5" x2="1635.5" y2="1097.5" stroke="#000" stroke-width="2.4"/>
<path d="M1641.5,1097.5 L1629.0,1103.8 Q1633.8,1097.5 1629.0,1091.2 Z" fill="#000"/>
<path d="M1514.0,1097.5 L1526.5,1103.8 Q1521.8,1097.5 1526.5,1091.2 Z" fill="#000"/>
<line x1="2121.0" y1="1078.5" x2="2292.0" y2="1078.5" stroke="#000" stroke-width="2.4"/>
<path d="M2298.0,1078.5 L2285.5,1084.8 Q2290.2,1078.5 2285.5,1072.2 Z" fill="#000"/>
<path d="M2115.0,1078.5 L2127.5,1084.8 Q2122.8,1078.5 2127.5,1072.2 Z" fill="#000"/>
<circle cx="68" cy="77.5" r="57" fill="url(#bg1)"/>
<circle cx="68" cy="77.5" r="57" fill="url(#bg2)"/>
<circle cx="68" cy="77.5" r="53.5" fill="none" stroke="#fff" stroke-opacity="0.75" stroke-width="1.6"/>
<circle cx="68.5" cy="1449" r="57" fill="url(#bg1)"/>
<circle cx="68.5" cy="1449" r="57" fill="url(#bg2)"/>
<circle cx="68.5" cy="1449" r="53.5" fill="none" stroke="#fff" stroke-opacity="0.75" stroke-width="1.6"/>
<circle cx="1209.5" cy="1449" r="57" fill="url(#bg1)"/>
<circle cx="1209.5" cy="1449" r="57" fill="url(#bg2)"/>
<circle cx="1209.5" cy="1449" r="53.5" fill="none" stroke="#fff" stroke-opacity="0.75" stroke-width="1.6"/>
<path d="M63.6,50.3 H72.5 V98 H63.6 V59.5 L55.5,62.5 L53.6,56 Z" fill="#fff"/>
<path d="M53,1430.5 C57,1425 62,1421.1 69.5,1421.1 C79,1421.1 85.6,1427.5 85.6,1436 C85.6,1443.5 81,1448 75,1452.5 L64.2,1461.6 H86 V1468.9 H51.9 V1462.3 L70,1446.5 C74.5,1442.5 77,1439.5 77,1435.5 C77,1431 73.5,1428 69,1428 C64.5,1428 61,1431 58.4,1435.4 Z" fill="#fff"/>
<path d="M1193.1,1426 H1224.2 V1432.7 L1212,1445.5 C1220,1447 1225,1453 1225,1459.5 C1225,1468 1218,1474 1209,1474 C1201.5,1474 1195,1470.5 1190.9,1465.5 L1196.5,1460.1 C1199.5,1464 1204,1466.5 1209,1466.5 C1213.5,1466.5 1216.9,1463.5 1216.9,1459 C1216.9,1454.5 1213,1451.9 1208.5,1451.9 H1202.5 L1201,1446.2 L1213,1432.7 H1193.1 Z" fill="#fff"/>
</svg>
<div class="t" style="left:156px;top:52px;font-size:44px;color:#000;font-weight:normal;letter-spacing:0.6px;">室内外机安装位置确认，室内外机安装简图：</div><div class="t" style="left:158px;top:1437px;font-size:44px;color:#000;font-weight:normal;letter-spacing:0.5px;">设备位置需装修公司预留室内外机的电源线</div><div class="t" style="left:158px;top:1512px;font-size:44px;color:#000;font-weight:normal;letter-spacing:0px;">( 设备处 1 米余量 );</div><div class="t" style="left:1299px;top:1430px;font-size:44px;color:#000;font-weight:normal;letter-spacing:0.4px;">线控器安装需装修公司开线槽、预埋线管和底盒;</div><div class="t" style="left:225px;top:1275px;font-size:32px;color:#8a8a8a;font-weight:normal;letter-spacing:1.3px;">注：以上图中产品外观仅为示意图，请以实际收到实物为准</div><div class="t" style="left:1221px;top:258px;font-size:33px;color:#000;font-weight:500;letter-spacing:0px;">与墙距离</div><div class="t" style="left:1224px;top:293px;font-size:34px;color:#13203b;font-weight:normal;letter-spacing:4.8px;">≥25CM</div><div class="t" style="left:1743px;top:247px;font-size:33px;color:#000;font-weight:500;letter-spacing:0px;">与天花板距离</div><div class="t" style="left:1746px;top:282px;font-size:34px;color:#13203b;font-weight:normal;letter-spacing:4.8px;">≥3CM</div><div class="t" style="left:2135px;top:255px;font-size:33px;color:#000;font-weight:500;letter-spacing:0px;">与墙距离</div><div class="t" style="left:2138px;top:290px;font-size:34px;color:#13203b;font-weight:normal;letter-spacing:4.8px;">≥50CM</div><div class="t" style="left:1742px;top:514px;font-size:33px;color:#000;font-weight:500;letter-spacing:0px;">与吊顶底部距离</div><div class="t" style="left:1745px;top:549px;font-size:34px;color:#13203b;font-weight:normal;letter-spacing:4.8px;">≥3CM</div><div class="t" style="left:1796px;top:783px;font-size:33px;color:#000;font-weight:500;letter-spacing:0px;">与墙距离</div><div class="t" style="left:1799px;top:818px;font-size:34px;color:#13203b;font-weight:normal;letter-spacing:4.8px;">≥100CM</div><div class="t" style="left:1513px;top:1017px;font-size:33px;color:#000;font-weight:500;letter-spacing:0px;">与墙距离</div><div class="t" style="left:1516px;top:1052px;font-size:34px;color:#13203b;font-weight:normal;letter-spacing:4.8px;">≥50CM</div><div class="t" style="left:2135px;top:996px;font-size:33px;color:#000;font-weight:500;letter-spacing:0px;">与墙距离</div><div class="t" style="left:2138px;top:1031px;font-size:34px;color:#13203b;font-weight:normal;letter-spacing:4.8px;">≥50CM</div><div class="t" style="left:256px;top:944px;font-size:33px;color:#000;font-weight:500;letter-spacing:0px;">背面与墙距离</div><div class="t" style="left:259px;top:979px;font-size:34px;color:#13203b;font-weight:normal;letter-spacing:4.8px;">≥50CM</div><div class="t" style="left:784px;top:934px;font-size:33px;color:#000;font-weight:500;letter-spacing:0px;">出风口与阻挡物距离</div><div class="t" style="left:787px;top:969px;font-size:34px;color:#13203b;font-weight:normal;letter-spacing:4.8px;">≥200CM</div><div class="t" style="left:716px;top:183.5px;font-size:31px;color:#13203b;font-weight:normal;letter-spacing:2.8px;">45cm</div><div class="t" style="left:845px;top:328px;font-size:31px;color:#13203b;font-weight:normal;letter-spacing:2.8px;">20cm</div>
</body></html>
